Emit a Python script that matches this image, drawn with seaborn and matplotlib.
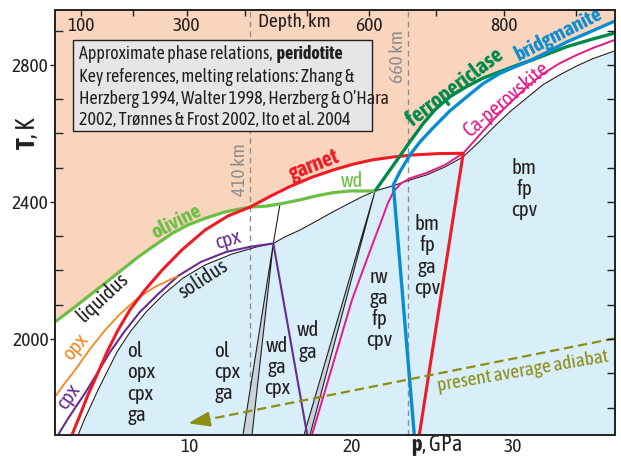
import numpy as np
import matplotlib
matplotlib.use("Agg")
import matplotlib.pyplot as plt
from matplotlib.patches import Rectangle
from matplotlib.ticker import MultipleLocator
import seaborn as sns

# Phase boundaries of peridotite: pressure p (GPa) and temperature T (K)
OLIVINE_P = [1.64, 2.88, 4.74, 6.78, 7.83, 8.89, 9.88, 10.93, 12.17, 13.72]
OLIVINE_T = [2050, 2094, 2163, 2239, 2274, 2308, 2333, 2352, 2371, 2385]

WADSLEYITE_P = [13.72, 14.77, 15.76, 16.81, 17.86, 18.85, 19.91, 21.46]
WADSLEYITE_T = [2385, 2388, 2396, 2406, 2418, 2427, 2432, 2432]

GARNET_P = [2.69, 3.19, 3.68, 4.24, 4.86, 5.54, 6.28, 7.21, 8.27, 9.50, 10.93, 12.35,
            13.72, 14.95, 16.19, 17.55, 18.85, 20.09, 21.33, 22.57, 23.81, 25.36, 26.92, 24.20]
GARNET_T = [1720, 1778, 1837, 1895, 1962, 2026, 2085, 2143, 2201, 2260, 2318, 2359,
            2385, 2416, 2445, 2472, 2493, 2510, 2523, 2531, 2537, 2541, 2542, 1720]

CPX_P = [1.83, 2.38, 3.00, 3.62, 4.30, 5.05, 5.91, 6.90, 8.02, 9.26, 10.68, 12.23, 13.72, 15.16, 17.26]
CPX_T = [1720, 1763, 1807, 1851, 1904, 1962, 2020, 2079, 2131, 2184, 2225, 2254, 2269, 2279, 1720]

OPX_P = [1.64, 2.26, 2.88, 3.81, 4.74, 5.67, 6.78, 7.83, 9.26]
OPX_T = [1831, 1872, 1909, 1971, 2026, 2073, 2120, 2152, 2184]

SOLIDUS_P = [3.07, 3.44, 3.87, 4.30, 4.86, 5.48, 6.28, 7.28, 8.39, 9.57, 10.93, 12.60, 14.15,
             15.16, 15.88, 16.81, 17.86, 18.85, 19.91, 20.65, 21.46, 22.57, 23.62, 24.67,
             25.79, 26.90, 27.83, 28.76, 29.81, 30.87, 31.86, 32.91, 33.96, 34.95, 36.32]
SOLIDUS_T = [1720, 1763, 1807, 1851, 1904, 1962, 2020, 2079, 2131, 2178, 2216, 2248, 2269,
             2279, 2298, 2318, 2345, 2371, 2397, 2415, 2432, 2447, 2464, 2479,
             2502, 2531, 2572, 2616, 2663, 2704, 2742, 2771, 2797, 2818, 2841]

FERROPERICLASE_P = [21.46, 22.26, 23.00, 23.75, 24.43, 25.17, 26.10, 27.15, 28.14, 29.19,
                    30.25, 31.24, 32.29, 33.34, 34.77, 36.32]
FERROPERICLASE_T = [2432, 2485, 2534, 2584, 2628, 2669, 2707, 2737, 2761, 2780,
                    2799, 2815, 2834, 2853, 2873, 2893]

BRIDGMANITE_P = [23.89, 22.59, 23.00, 23.62, 24.24, 25.05, 26.10, 27.15, 28.14, 29.19,
                 30.12, 31.05, 32.29, 33.34, 34.77, 36.32]
BRIDGMANITE_T = [1720, 2450, 2488, 2537, 2575, 2616, 2666, 2707, 2745, 2775,
                 2794, 2812, 2841, 2867, 2896, 2928]

CA_PEROVSKITE_P = [17.55, 20.03, 20.71, 21.33, 21.83, 22.26, 22.63, 23.07, 23.62, 24.67, 25.79,
                   26.92, 27.83, 28.76, 29.81, 30.87, 31.86, 32.91, 33.96, 34.95, 36.32]
CA_PEROVSKITE_T = [1720, 2114, 2201, 2280, 2342, 2397, 2432, 2454, 2469, 2485, 2508,
                   2542, 2590, 2639, 2689, 2736, 2774, 2805, 2829, 2849, 2873]

# Two-phase loops: olivine -> wadsleyite and wadsleyite -> ringwoodite
OL_WD_P = [13.28, 15.16, 13.84]
OL_WD_T = [1720, 2279, 1720]
OL_WD_TOP_P = [15.16, 15.57]
OL_WD_TOP_T = [2279, 2393]
WD_RW_P = [17.06, 21.46, 17.43]
WD_RW_T = [1720, 2432, 1720]

ADIABAT_P = [36.32, 9.89]
ADIABAT_T = [2002, 1754]

# Depth scale along the top
DEPTH_KM = [100, 200, 300, 400, 500, 600, 700, 800, 900]
DEPTH_P = [3.23, 6.45, 9.80, 13.41, 17.23, 21.10, 25.21, 29.44, 33.90]
DEPTH_LABELS = ["100", "", "300", "", "", "600", "", "800", ""]

DISCONTINUITY_P = [13.72, 23.52]
DISCONTINUITY_LABELS = ["410 km", "660 km"]

PHASE_FIELDS = ["ol\nopx\ncpx\nga", "ol\ncpx\nga", "wd\nga\ncpx", "wd\nga",
                "rw\nga\nfp\ncpv", "bm\nfp\nga\ncpv", "bm\nfp\ncpv"]

P_MIN, P_MAX = 1.64, 36.32
T_MIN, T_MAX = 1720, 2960

PEACH = "#FAD5BE"
ICE = "#D8EEF9"
INK = "#231F20"
GREY = "#8E8E8E"
C_OLIVINE = "#6DBE45"
C_GARNET = "#ED1C24"
C_CPX = "#662D91"
C_OPX = "#F7861F"
C_FP = "#00894B"
C_BM = "#0A8CD2"
C_CAPV = "#E5198A"
C_ADIABAT = "#8E8C12"
C_LOOP = "#C8D2D9"

FONT = "Asap Condensed"

sns.set_theme(style="ticks")
plt.rcParams["font.family"] = [FONT, "DejaVu Sans"]
plt.rcParams["mathtext.fontset"] = "custom"
plt.rcParams["mathtext.rm"] = FONT
plt.rcParams["mathtext.bf"] = FONT + ":bold"
plt.rcParams["mathtext.it"] = FONT + ":italic"
plt.rcParams["axes.linewidth"] = 1.3

fig = plt.figure(figsize=(6.21, 4.58), dpi=100)
ax = fig.add_axes([55 / 621, 23 / 458, 560 / 621, 425 / 458])
ax.set_facecolor(PEACH)


def on_grid(grid, p, t):
    return np.interp(grid, np.asarray(p), np.asarray(t), left=np.nan, right=np.nan)


# melt-bearing field (white) below the liquidus envelope, subsolidus field (blue)
grid = np.linspace(P_MIN, P_MAX, 900)
liquidus = np.nanmax(np.vstack([
    on_grid(grid, OLIVINE_P, OLIVINE_T),
    on_grid(grid, WADSLEYITE_P, WADSLEYITE_T),
    on_grid(grid, GARNET_P[:-1], GARNET_T[:-1]),
    on_grid(grid, FERROPERICLASE_P, FERROPERICLASE_T),
    on_grid(grid, BRIDGMANITE_P[1:], BRIDGMANITE_T[1:]),
]), axis=0)
ax.fill_between(grid, liquidus, T_MIN, color="white", lw=0, zorder=1)
ax.fill_between(SOLIDUS_P, SOLIDUS_T, T_MIN, color=ICE, lw=0, zorder=1.1)

for p in DISCONTINUITY_P:
    ax.axvline(p, color=GREY, lw=1.0, ls=(0, (4, 3)), zorder=1.5)

# two-phase loops
for lp, lt in [(OL_WD_P, OL_WD_T), (WD_RW_P, WD_RW_T)]:
    ax.fill(lp, lt, color=C_LOOP, lw=0, zorder=2)
    sns.lineplot(x=lp, y=lt, sort=False, estimator=None, color=INK, lw=0.8, ax=ax, zorder=2.2)
sns.lineplot(x=OL_WD_TOP_P, y=OL_WD_TOP_T, sort=False, estimator=None, color=INK, lw=0.8, ax=ax, zorder=2.2)


def curve(p, t, color, lw, z):
    sns.lineplot(x=p, y=t, sort=False, estimator=None, color=color, lw=lw, ax=ax,
                 zorder=z, solid_joinstyle="round", solid_capstyle="butt")


curve(SOLIDUS_P, SOLIDUS_T, INK, 0.8, 3.0)
curve(CA_PEROVSKITE_P, CA_PEROVSKITE_T, C_CAPV, 1.4, 3.1)
curve(CPX_P, CPX_T, C_CPX, 1.5, 3.2)
curve(OPX_P, OPX_T, C_OPX, 1.3, 3.3)
curve(OLIVINE_P, OLIVINE_T, C_OLIVINE, 2.3, 3.4)
curve(WADSLEYITE_P, WADSLEYITE_T, C_OLIVINE, 2.3, 3.4)
curve(GARNET_P, GARNET_T, C_GARNET, 2.2, 3.5)
curve(FERROPERICLASE_P, FERROPERICLASE_T, C_FP, 2.4, 3.6)
curve(BRIDGMANITE_P, BRIDGMANITE_T, C_BM, 2.4, 3.7)

# present-day mantle adiabat with arrow
tip = np.array([ADIABAT_P[1], ADIABAT_T[1]])
start = np.array([ADIABAT_P[0], ADIABAT_T[0]])
base = tip + (start - tip) * 0.045
sns.lineplot(x=[start[0], base[0]], y=[start[1], base[1]], sort=False, estimator=None,
             color=C_ADIABAT, lw=1.6, ls=(0, (4.2, 2.2)), ax=ax, zorder=4)
ax.annotate("", xy=tuple(tip), xytext=tuple(base), zorder=4,
            arrowprops=dict(arrowstyle="-|>,head_length=1.3,head_width=0.45",
                            mutation_scale=10, color=C_ADIABAT, lw=1.6,
                            shrinkA=0, shrinkB=0))

ax.set_xlim(P_MIN, P_MAX)
ax.set_ylim(T_MIN, T_MAX)

# bottom and left axes
ax.xaxis.set_major_locator(MultipleLocator(10))
ax.xaxis.set_minor_locator(MultipleLocator(5))
ax.yaxis.set_major_locator(MultipleLocator(400))
ax.yaxis.set_minor_locator(MultipleLocator(100))
ax.tick_params(axis="x", which="both", direction="in", length=5.8, width=1.0,
               labelsize=14, pad=2, colors=INK, top=False)
ax.tick_params(axis="y", which="major", direction="out", length=3.6, width=1.0,
               labelsize=14, pad=1, colors=INK, right=False)
ax.tick_params(axis="y", which="minor", direction="in", length=5.8, width=1.0, right=False)
for s in ax.spines.values():
    s.set_color(INK)
    s.set_zorder(8)

ax.set_xlabel(r"$\mathbf{p}$, GPa", fontsize=16, color=INK, va="baseline")
ax.xaxis.set_label_coords(0.682, -0.038)
ax.set_ylabel(r"$\mathbf{T}$, K", fontsize=19, color=INK, va="center")
ax.yaxis.set_label_coords(-0.05, 0.711)

# right-hand tick marks
ax_r = ax.twinx()
ax_r.set_ylim(T_MIN, T_MAX)
ax_r.yaxis.set_major_locator(MultipleLocator(100))
ax_r.tick_params(axis="y", direction="in", length=5.8, width=1.0, labelright=False, colors=INK)
ax_r.grid(False)

# depth scale drawn inside the top of the frame
ax_t = ax.twiny()
ax_t.set_xlim(P_MIN, P_MAX)
ax_t.set_xticks(DEPTH_P)
ax_t.set_xticklabels(DEPTH_LABELS)
ax_t.tick_params(axis="x", direction="in", length=4, width=1.0, labelsize=14, pad=-18, colors=INK)
ax_t.grid(False)
ax.text(0.427, 0.972, "Depth, km", transform=ax.transAxes, ha="center", va="center",
        fontsize=14, color=INK, zorder=9)

for p, lab, t in zip(DISCONTINUITY_P, DISCONTINUITY_LABELS, [2493, 2824]):
    ax.text(p - 0.62, t, lab, rotation=90, ha="center", va="center", fontsize=14,
            color=GREY, zorder=5)

# reference box
ax.add_patch(Rectangle((0.032, 0.715), 0.534, 0.214, transform=ax.transAxes,
                       fc="#E6E6E6", ec=INK, lw=1.0, zorder=6))
head = ax.text(0.043, 0.884, "Approximate phase relations,", transform=ax.transAxes,
               ha="left", va="baseline", fontsize=13, color=INK, zorder=7)
ax.annotate("\u2009peridotite", xy=(1, 0), xycoords=head, ha="left", va="bottom",
            fontsize=13, fontweight="bold", color=INK, zorder=7, annotation_clip=False)
box_lines = ["Key references, melting relations: Zhang &",
             "Herzberg 1994, Walter 1998, Herzberg & O\u2019Hara",
             "2002, Tr\u00f8nnes & Frost 2002, Ito et al. 2004"]
for line, y in zip(box_lines, [0.831, 0.780, 0.729]):
    ax.text(0.043, y, line, transform=ax.transAxes, ha="left", va="baseline",
            fontsize=13, color=INK, zorder=7)

# phase assemblage labels
field_pos = [(6.10, 1872, "left"), (11.49, 1904, "left"), (15.39, 1918, "center"),
             (17.31, 1994, "center"), (21.70, 2089, "center"), (24.68, 2242, "center"),
             (30.68, 2438, "center")]
for lab, (p, t, ha) in zip(PHASE_FIELDS, field_pos):
    ax.text(p, t, lab, ha=ha, va="center", multialignment=ha, fontsize=15,
            linespacing=1.08, color=INK, zorder=5)

# curve labels
curve_labels = [
    ("olivine", 9.13, 2342, 27, C_OLIVINE, "bold", 15),
    ("garnet", 17.68, 2508, 21, C_GARNET, "bold", 15.5),
    ("wd", 20.03, 2461, 0, C_OLIVINE, "normal", 15),
    ("cpx", 12.35, 2289, 16, C_CPX, "normal", 15),
    ("liquidus", 4.61, 2123, 43, INK, "normal", 15),
    ("solidus", 10.80, 2175, 33, INK, "normal", 15),
    ("opx", 2.88, 1977, 50, C_OPX, "normal", 15),
    ("cpx", 2.45, 1831, 55, C_CPX, "normal", 15),
    ("ferropericlase", 26.45, 2733, 37, C_FP, "bold", 16),
    ("bridgmanite", 32.79, 2888, 27, C_BM, "bold", 15),
    ("Ca-perovskite", 29.55, 2698, 40, C_CAPV, "normal", 15),
    ("present average adiabat", 30.62, 1907, 9.8, C_ADIABAT, "normal", 14),
]
for txt, p, t, rot, col, w, fs in curve_labels:
    ax.text(p, t, txt, rotation=rot, rotation_mode="anchor", ha="center", va="center",
            fontsize=fs, fontweight=w, color=col, zorder=5)

fig.savefig("out.png", dpi=100)
